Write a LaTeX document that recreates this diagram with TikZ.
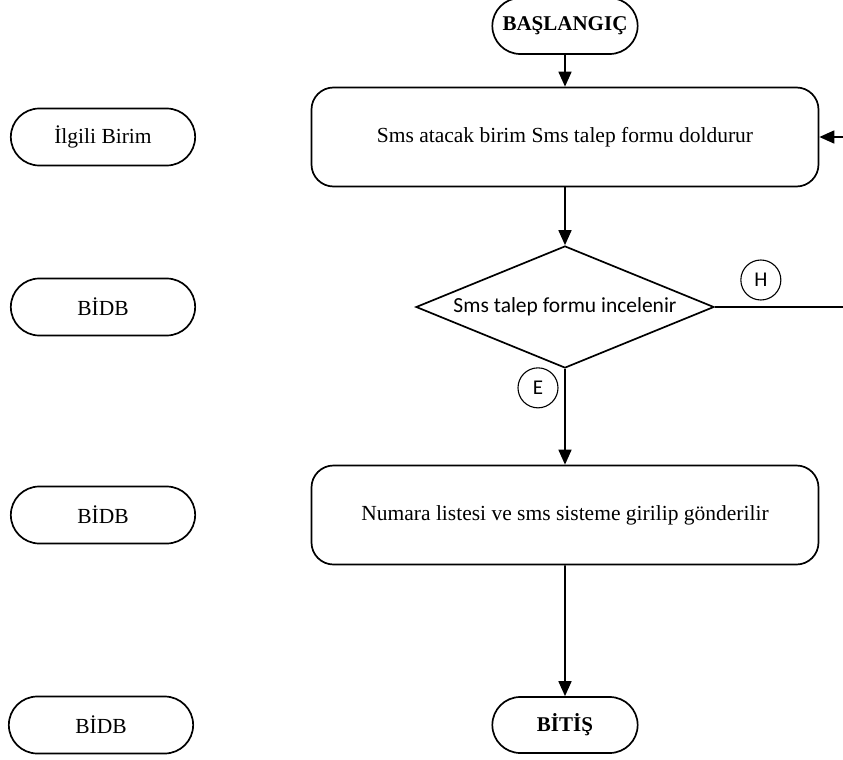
\documentclass[tikz,border=0pt]{standalone}
\usepackage{fontspec}
\setmainfont{Liberation Serif}
\newfontfamily\calibrifont{Carlito}
\usetikzlibrary{positioning, arrows.meta, shapes.geometric, shapes.misc}
\tikzset{->, >={Triangle[length=15pt, width=13pt]}, node distance = 2cm,
  term/.style={draw, rounded rectangle, minimum width=152pt, minimum height=56pt,
    font=\fontsize{21}{25}\selectfont\bfseries},
  lane/.style={draw, rounded rectangle, minimum width=191pt, minimum height=57pt,
    font=\fontsize{21.5}{25}\selectfont},
  process/.style={draw, rounded corners=22pt, minimum width=507pt, minimum height=99pt,
    font=\fontsize{21.5}{25}\selectfont},
  decision/.style={draw, diamond, aspect=2.44, minimum width=298pt, minimum height=122pt,
    inner sep=0pt, font=\calibrifont\fontsize{21.5}{25}\selectfont},
  answer/.style={draw, circle, minimum size=40pt, inner sep=0pt, line width=1.1pt,
    font=\calibrifont\fontsize{21}{24}\selectfont}}

\begin{document}
\begin{tikzpicture}[line width=1.7pt]
    \useasboundingbox (-565pt,26pt) rectangle (278pt,-734pt);
    \node[term] (start) {BAŞLANGIÇ};
    \node[process, below of=start, node distance=111pt] (form) {Sms atacak birim Sms talep formu doldurur};
    \node[decision, below of=form, node distance=170pt] (check) {Sms talep formu incelenir};
    \node[process, below of=check, node distance=208pt] (send) {Numara listesi ve sms sisteme girilip gönderilir};
    \node[term, below of=send, node distance=210pt] (stop) {BİTİŞ};
    \node[lane, left of=form, node distance=462pt] (unit) {İlgili Birim};
    \node[lane, left of=check, node distance=462pt] (bidb1) {BİDB};
    \node[lane, left of=send, node distance=462pt] (bidb2) {BİDB};
    \node[lane, left of=stop, node distance=464pt] (bidb3) {BİDB};
    \node[answer] (no) at ([shift={(46pt,27pt)}]check.east) {H};
    \node[answer] (yes) at ([shift={(-27pt,-19pt)}]check.south) {E};
    \draw (start) -- (form);
    \draw (form) -- (check);
    \draw (check) -- (send);
    \draw (send) -- (stop);
    \draw (check.east) -- ++(140pt,0) |- (form.east);
\end{tikzpicture}
\end{document}
